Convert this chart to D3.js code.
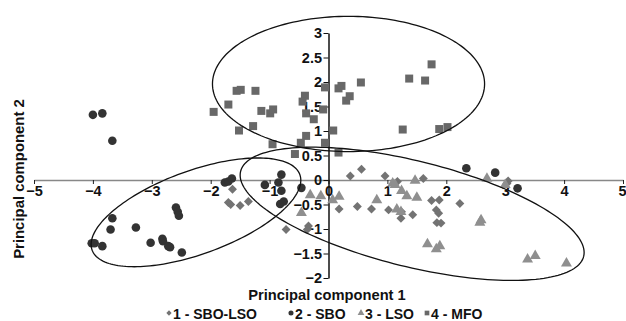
<!DOCTYPE html>
<html>
<head>
<meta charset="utf-8">
<script src="https://cdn.jsdelivr.net/npm/d3@7"></script>
<style>
  body { margin: 0; background: #fff; }
  text { font-family: "Liberation Sans", Arial, sans-serif; font-weight: bold; }
</style>
</head>
<body>
<div id="chart"></div>
<script>
// group 1 - SBO-LSO (diamonds)
const sboLso = [
  [-1.63, -0.19], [-1.70, -0.46], [-1.66, -0.50], [-1.50, -0.52], [-1.36, -0.44],
  [-0.72, -1.01], [-0.34, -0.94], [-0.36, -1.01], [0.37, 0.08], [0.56, 0.22],
  [0.96, 0.08], [1.17, -0.03], [1.61, 0.03], [0.18, -0.59], [0.49, -0.54],
  [0.73, -0.59], [1.02, -0.61], [1.24, -0.65], [1.23, -0.78], [1.43, -0.71],
  [1.75, -0.42], [1.88, -0.41], [1.83, -0.61], [1.87, -0.68], [1.84, -0.87],
  [1.91, -0.88], [2.23, -0.48], [3.05, -0.02], [3.03, -0.07]
];
// group 2 - SBO (circles)
const sbo = [
  [-4.02, -1.29], [-3.97, -1.29], [-3.84, -1.35], [-3.67, -0.78], [-3.70, -1.01],
  [-3.27, -0.97], [-3.02, -1.28], [-2.82, -1.20], [-2.81, -1.25], [-2.72, -1.35],
  [-2.69, -1.37], [-2.49, -1.48], [-2.59, -0.56], [-2.56, -0.65], [-2.54, -0.73],
  [-1.76, -0.05], [-1.70, -0.03], [-1.64, 0.03], [-4.00, 1.33], [-3.84, 1.36],
  [-3.67, 0.80], [-1.08, -0.10], [-0.80, 0.11], [-0.85, -0.05], [-0.80, -0.22],
  [-0.82, -0.49], [-0.76, -0.44], [-0.46, -0.16], [2.34, 0.24], [2.83, 0.15],
  [3.21, -0.17]
];
// group 3 - LSO (triangles)
const lso = [
  [-0.46, -0.67], [-0.31, -0.31], [-0.13, -0.33], [0.07, -0.41], [0.18, -0.34],
  [0.82, -0.41], [1.09, -0.07], [1.13, -0.10], [1.24, -0.22], [1.33, -0.33],
  [1.47, -0.01], [1.50, -0.36], [1.16, -0.60], [1.23, -0.65], [1.68, -1.31],
  [1.83, -1.41], [1.89, -1.35], [2.59, -0.82], [2.57, -0.87], [3.38, -1.62],
  [3.51, -1.55], [4.04, -1.70], [2.69, 0.03], [3.00, -0.10]
];
// group 4 - MFO (squares)
const mfo = [
  [-1.95, 1.39], [-1.70, 1.54], [-1.56, 1.82], [-1.49, 1.84], [-1.24, 1.82],
  [-1.14, 1.41], [-0.99, 1.36], [-0.94, 1.44], [-1.52, 1.01], [-1.28, 1.10],
  [-0.95, 0.73], [-0.40, 1.72], [-0.44, 1.60], [-0.38, 1.36], [-0.25, 1.24],
  [-0.38, 0.90], [-0.47, 0.76], [-0.57, 0.53], [-0.06, 1.89], [-0.09, 1.44],
  [0.08, 1.01], [-0.06, 0.76], [0.17, 1.87], [0.22, 1.92], [0.30, 1.62],
  [0.36, 1.71], [0.55, 1.99], [1.37, 2.07], [1.64, 2.03], [1.75, 2.36],
  [1.26, 1.03], [1.88, 1.04], [2.02, 1.08], [0.17, 0.56]
];

// ellipses: [cx, cy, half x-extent, half y-extent, correlation]
const ellipses = [
  [0.34, 1.96, 2.31, 1.38, 0],
  [-2.25, -0.66, 1.78, 1.11, 0.59],
  [1.42, -0.69, 2.92, 1.36, -0.58]
];

const xTicks = [-5, -4, -3, -2, -1, 0, 1, 2, 3, 4, 5];
const yTicks = [-2, -1.5, -1, -0.5, 0, 0.5, 1, 1.5, 2, 2.5, 3];
const legendLabels = ["1 - SBO-LSO", "2 - SBO", "3 - LSO", "4 - MFO"];

const width = 626, height = 321;
const svg = d3.select("#chart").append("svg")
  .attr("width", width)
  .attr("height", height);

const x = d3.scaleLinear().domain([-5, 5]).range([34, 623]);
const y = d3.scaleLinear().domain([-2, 3]).range([278, 33]);

const fmt = d => (d < 0 ? "\u2212" : "") + Math.abs(d);

// x axis through y = 0
const xAxis = svg.append("g")
  .attr("transform", `translate(0,${y(0)})`)
  .call(d3.axisBottom(x).tickValues(xTicks).tickFormat(fmt).tickSize(4).tickSizeOuter(0).tickPadding(2));
xAxis.select(".domain").attr("stroke", "#888").attr("stroke-width", 1.6);
xAxis.selectAll(".tick line").attr("stroke", "#222");
xAxis.selectAll("text").attr("font-size", 14.5).attr("fill", "#111");
// keep the last label inside the frame
xAxis.selectAll(".tick text").filter(d => d === 5).attr("text-anchor", "end").attr("x", 3);

// y axis through x = 0
const yAxis = svg.append("g")
  .attr("transform", `translate(${x(0)},0)`)
  .call(d3.axisLeft(y).tickValues(yTicks).tickFormat(fmt).tickSize(5).tickSizeOuter(0).tickPadding(1.5));
yAxis.select(".domain").attr("stroke", "#111").attr("stroke-width", 1.5);
yAxis.selectAll(".tick line").attr("stroke", "#111");
yAxis.selectAll("text").attr("font-size", 14.5).attr("fill", "#111");

// points
const sym = (type, size) => d3.symbol().type(type).size(size)();
const groups = [
  { data: sboLso, path: sym(d3.symbolSquare, 40), rot: 45, fill: "#737373" },
  { data: sbo, path: sym(d3.symbolCircle, 58), rot: 0, fill: "#333333" },
  { data: lso, path: sym(d3.symbolTriangle, 52), rot: 0, fill: "#8f8f8f" },
  { data: mfo, path: sym(d3.symbolSquare, 64), rot: 0, fill: "#686868" }
];
groups.forEach(g => {
  svg.append("g").selectAll("path")
    .data(g.data)
    .enter()
    .append("path")
    .attr("d", g.path)
    .attr("transform", d => `translate(${x(d[0])},${y(d[1])}) rotate(${g.rot})`)
    .attr("fill", g.fill);
});

// ellipses
const line = d3.line().x(d => x(d[0])).y(d => y(d[1])).curve(d3.curveLinearClosed);
ellipses.forEach(([cx, cy, sx, sy, r]) => {
  const pts = d3.range(0, 360, 2).map(a => {
    const t = a * Math.PI / 180;
    return [cx + sx * Math.cos(t), cy + sy * (r * Math.cos(t) + Math.sqrt(1 - r * r) * Math.sin(t))];
  });
  svg.append("path")
    .attr("d", line(pts))
    .attr("fill", "none")
    .attr("stroke", "#111")
    .attr("stroke-width", 1.3);
});

// axis titles
svg.append("text")
  .attr("x", 327).attr("y", 300)
  .attr("text-anchor", "middle")
  .attr("font-size", 14.7)
  .attr("fill", "#111")
  .text("Principal component 1");
svg.append("text")
  .attr("transform", "translate(24,179) rotate(-90)")
  .attr("text-anchor", "middle")
  .attr("font-size", 14.9)
  .attr("fill", "#111")
  .text("Principal component 2");

// legend
const legX = [169, 291, 361, 427];
const legSym = [
  { path: sym(d3.symbolSquare, 14), rot: 45, fill: "#737373" },
  { path: sym(d3.symbolCircle, 20), rot: 0, fill: "#333333" },
  { path: sym(d3.symbolTriangle, 20), rot: 0, fill: "#8f8f8f" },
  { path: sym(d3.symbolSquare, 22), rot: 0, fill: "#686868" }
];
const legend = svg.append("g").attr("transform", "translate(0,313)");
legendLabels.forEach((lab, i) => {
  legend.append("path")
    .attr("d", legSym[i].path)
    .attr("transform", `translate(${legX[i]},0) rotate(${legSym[i].rot})`)
    .attr("fill", legSym[i].fill);
  legend.append("text")
    .attr("x", legX[i] + 4).attr("y", 5.5)
    .attr("font-size", 14)
    .attr("fill", "#111")
    .text(lab);
});
</script>
</body>
</html>
